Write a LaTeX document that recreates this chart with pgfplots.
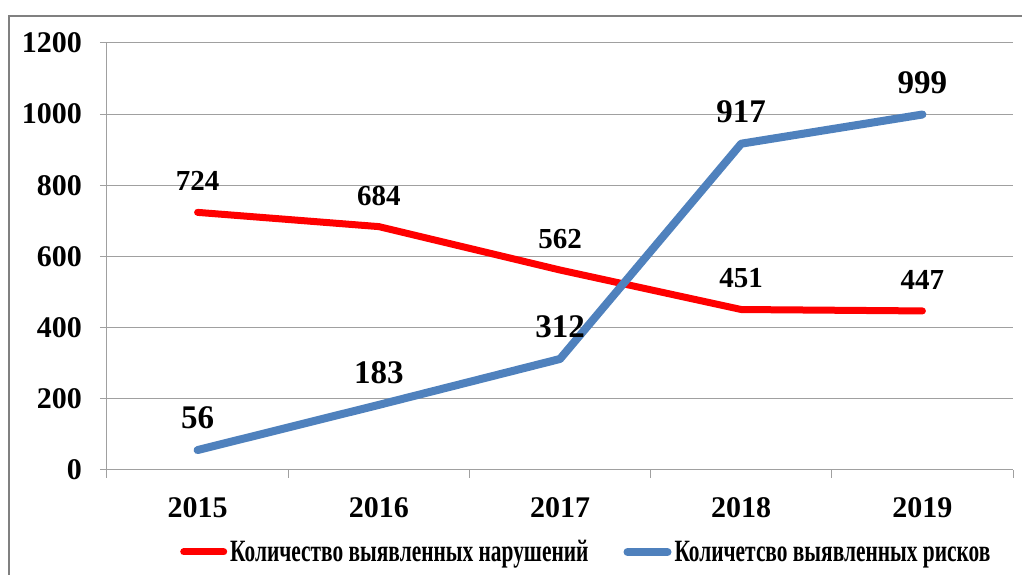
\documentclass[border=0pt]{standalone}
\usepackage{pgfplots}
\pgfplotsset{compat=1.18}
\usepackage{fontspec}
\setmainfont{Liberation Serif}
\definecolor{ser1}{RGB}{255,0,0}
\definecolor{ser2}{RGB}{79,129,189}
\definecolor{gridc}{RGB}{160,160,160}
\definecolor{framec}{RGB}{128,128,128}
\begin{document}
\begin{tikzpicture}
\path[use as bounding box] (0pt,0pt) rectangle (1022pt,575pt);
\begin{axis}[
  at={(107pt,105pt)}, anchor=south west,
  scale only axis, width=906pt, height=427pt,
  xmin=-0.5, xmax=4.5, ymin=0, ymax=1200,
  xtick={0,1,2,3,4},
  xticklabels={2015,2016,2017,2018,2019},
  minor xtick={-0.5,0.5,1.5,2.5,3.5,4.5},
  ytick={0,200,400,600,800,1000,1200},
  /pgf/number format/1000 sep={},
  major x tick style={draw=none},
  minor tick length=8pt,
  major tick length=7pt,
  tick align=outside,
  tick style={gridc, line width=1pt},
  ymajorgrids,
  grid style={gridc, line width=1pt},
  axis x line*=bottom, axis y line*=left,
  axis line style={gridc, line width=1pt, -},
  /pgf/number format/assume math mode=true,
  ticklabel style={font=\fontsize{30}{30}\selectfont\bfseries, inner sep=0pt},
  yticklabel style={xshift=-18pt},
  xticklabel style={yshift=-20pt},
  clip=false,
  legend columns=2,
  legend style={at={(0.0806,-0.192)}, anchor=west, draw=none, fill=none,
    inner sep=0pt, font=\fontsize{31}{31}\selectfont\bfseries,
    nodes={inner sep=0pt},
    /tikz/every odd column/.append style={column sep=3pt},
    /tikz/every even column/.append style={column sep=35pt}},
  legend image code/.code={\draw[#1, line cap=round] (0pt,0pt) -- (40pt,0pt);},
]
\addplot[ser1, line width=7pt, line join=round, line cap=round,
  nodes near coords,
  nodes near coords style={font=\fontsize{29}{29}\selectfont\bfseries, black, anchor=center, yshift=31pt}]
  coordinates {(0,724) (1,684) (2,562) (3,451) (4,447)};
\addlegendentry{\scalebox{0.69}[1]{Количество выявленных нарушений}}
\addplot[ser2, line width=8pt, line join=round, line cap=round,
  nodes near coords,
  nodes near coords style={font=\fontsize{33}{33}\selectfont\bfseries, black, anchor=center, yshift=32pt}]
  coordinates {(0,56) (1,183) (2,312) (3,917) (4,999)};
\addlegendentry{\scalebox{0.69}[1]{Количетсво выявленных рисков}}
\end{axis}
\draw[framec, line width=2pt] (9pt,-5pt) -- (9pt,559pt) -- (1030pt,559pt);
\end{tikzpicture}
\end{document}
